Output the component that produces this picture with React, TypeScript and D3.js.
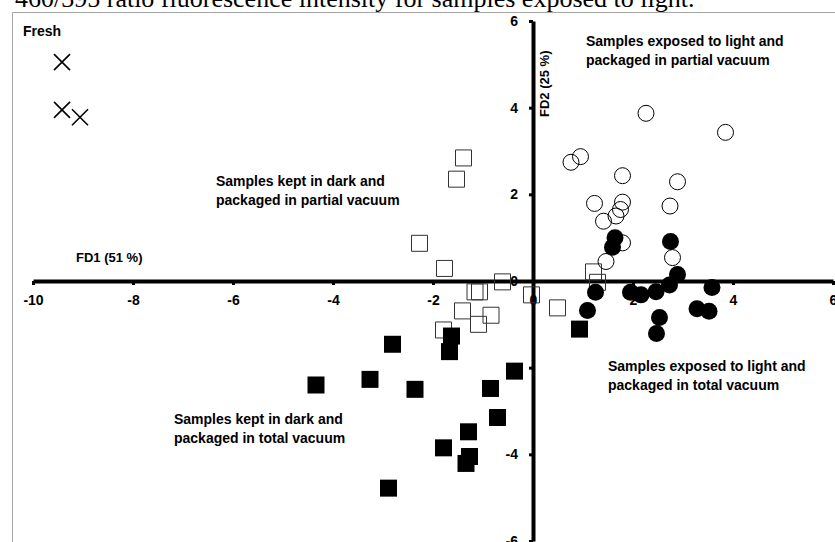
import React, { useRef, useEffect } from "react";
import * as d3 from "d3";

// discriminant scores: [FD1, FD2]
const fresh: [number, number][] = [[-9.42, 5.05], [-9.42, 3.95], [-9.06, 3.78]];

const lightPartial: [number, number][] = [
  [2.26, 3.87], [3.85, 3.43], [0.76, 2.74], [0.95, 2.87], [1.79, 2.43],
  [2.89, 2.29], [1.23, 1.79], [1.79, 1.82], [1.75, 1.65], [1.66, 1.5],
  [1.41, 1.38], [2.74, 1.73], [1.79, 0.88], [2.79, 0.54], [1.46, 0.45],
];

const lightTotal: [number, number][] = [
  [1.64, 1.0], [1.59, 0.78], [2.75, 0.91], [2.89, 0.15], [2.73, -0.09],
  [3.58, -0.15], [1.25, -0.26], [1.95, -0.26], [2.16, -0.32], [2.46, -0.25],
  [1.09, -0.68], [2.53, -0.84], [3.28, -0.64], [3.52, -0.7], [2.47, -1.21],
];

const darkPartial: [number, number][] = [
  [-1.39, 2.84], [-1.53, 2.35], [-2.27, 0.87], [-1.77, 0.29], [-0.61, -0.02],
  [-1.16, -0.25], [-1.07, -0.25], [-0.03, -0.32], [0.49, -0.62], [1.21, 0.21],
  [1.29, -0.03], [-1.41, -0.69], [-0.84, -0.79], [-1.09, -1.0], [-1.79, -1.13],
];

const darkTotal: [number, number][] = [
  [-1.63, -1.27], [-1.67, -1.63], [-2.81, -1.46], [-0.37, -2.08], [-3.26, -2.27],
  [-4.34, -2.4], [-2.36, -2.5], [-0.85, -2.48], [-0.71, -3.15], [-1.29, -3.48],
  [-1.79, -3.85], [-1.27, -4.05], [-1.34, -4.21], [-2.89, -4.78], [0.93, -1.11],
];

const xTicks = [-10, -8, -6, -4, -2, 0, 2, 4, 6];
const yTicks = [-6, -4, -2, 0, 2, 4, 6];

const title = "460/395 ratio fluorescence intensity for samples exposed to light.";

const groupLabels = [
  { lines: ["Fresh"], x: 23, y: 36 },
  { lines: ["Samples exposed to light and", "packaged in partial vacuum"], x: 586, y: 46 },
  { lines: ["Samples kept in dark and", "packaged in partial vacuum"], x: 216, y: 186 },
  { lines: ["Samples exposed to light and", "packaged in total vacuum"], x: 608, y: 371 },
  { lines: ["Samples kept in dark and", "packaged in total vacuum"], x: 174, y: 424 },
];

const FONT = "'Liberation Sans Narrow', 'Liberation Sans', Arial, sans-serif";

const App = () => {
  const svgRef = useRef<SVGSVGElement>(null);

  useEffect(() => {
    const svg = d3.select(svgRef.current);
    svg.selectAll("*").remove();

    const x = d3.scaleLinear().domain([-10, 6]).range([33, 833]);
    const y = d3.scaleLinear().domain([-6, 6]).range([541, 21]);

    // title of the page, cut by the crop
    svg.append("text")
      .attr("x", 15)
      .attr("y", 7)
      .style("font-family", "'Liberation Serif', 'Times New Roman', serif")
      .style("font-size", "26px")
      .text(title);

    // chart frame
    svg.append("path")
      .attr("d", "M12.5,545 V12.5 H840")
      .attr("fill", "none")
      .attr("stroke", "#a6a6a6")
      .attr("stroke-width", 1);

    // axes crossing at the origin
    const xAxis = d3.axisBottom(x).tickValues(xTicks).tickSizeInner(4).tickSizeOuter(0)
      .tickFormat(d => String(d));
    const gx = svg.append("g").attr("transform", `translate(0,${y(0)})`).call(xAxis);
    gx.select(".domain").attr("stroke-width", 4);
    gx.selectAll(".tick line").attr("stroke-width", 3);
    gx.selectAll(".tick text")
      .attr("y", 0).attr("dy", 24)
      .style("font-family", FONT).style("font-size", "14px").style("font-weight", "bold");

    const yAxis = d3.axisLeft(y).tickValues(yTicks).tickSizeInner(4).tickSizeOuter(0)
      .tickFormat(d => String(d));
    const gy = svg.append("g").attr("transform", `translate(${x(0)},0)`).call(yAxis);
    gy.select(".domain").attr("stroke-width", 4);
    gy.selectAll(".tick line").attr("stroke-width", 3);
    gy.selectAll(".tick text")
      .attr("x", -15)
      .style("font-family", FONT).style("font-size", "14px").style("font-weight", "bold");
    svg.selectAll(".domain, .tick line").attr("stroke", "#000");
    svg.selectAll(".tick text").attr("fill", "#000");

    // axis titles
    svg.append("text")
      .attr("x", 76).attr("y", 262)
      .style("font-family", FONT).style("font-size", "13px").style("font-weight", "bold")
      .text("FD1 (51 %)");
    svg.append("text")
      .attr("transform", `translate(549,117) rotate(-90)`)
      .style("font-family", FONT).style("font-size", "13px").style("font-weight", "bold")
      .text("FD2 (25 %)");

    // group annotations
    groupLabels.forEach(g => {
      const t = svg.append("text")
        .style("font-family", FONT).style("font-size", "14px").style("font-weight", "bold");
      g.lines.forEach((line, i) => {
        t.append("tspan").attr("x", g.x).attr("y", g.y + i * 19).text(line);
      });
    });

    const pts = svg.append("g");
    const draw = (data, type, size, fill, stroke, sw) => {
      pts.selectAll(null)
        .data(data)
        .join("path")
        .attr("transform", d => `translate(${x(d[0])},${y(d[1])})`)
        .attr("d", d3.symbol().type(type).size(size))
        .attr("fill", fill)
        .attr("stroke", stroke)
        .attr("stroke-width", sw);
    };

    draw(darkPartial, d3.symbolSquare, 256, "none", "#333", 1);
    draw(darkTotal, d3.symbolSquare, 289, "#000", "none", 0);
    draw(lightPartial, d3.symbolCircle, 201, "none", "#000", 1);
    draw(lightTotal, d3.symbolCircle, 227, "#000", "none", 0);
    draw(fresh, d3.symbolX, 169, "none", "#000", 1.6);
  }, []);

  return (
    <svg
      ref={svgRef}
      width={835}
      height={542}
      style={{ position: "absolute", left: 0, top: 0, background: "#fff" }}
    />
  );
};

export default App;
